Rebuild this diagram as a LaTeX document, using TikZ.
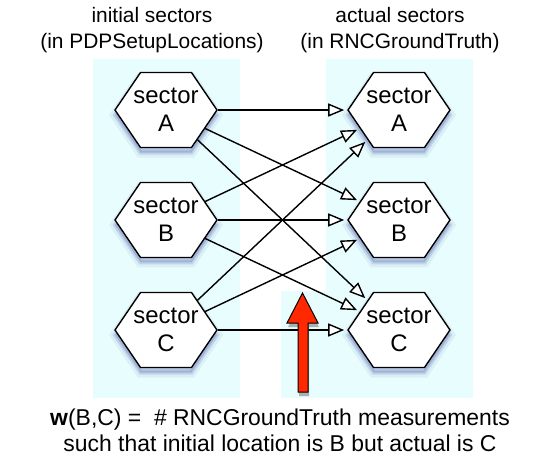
\documentclass[tikz,border=0pt]{standalone}
\usepackage{fontspec}
\setmainfont{Liberation Sans}
\usepackage{xcolor}
\usepackage{tikz}
\usetikzlibrary{shapes.geometric,shadows,arrows.meta}

\definecolor{panelcyan}{RGB}{232,254,254}
\definecolor{arrowred}{RGB}{255,40,0}
\definecolor{glowblue}{RGB}{40,50,150}

\tikzset{
  panel/.style={fill=panelcyan, draw=none},
  sector/.style={regular polygon, regular polygon sides=6, minimum size=102bp,
    inner sep=0pt, transform shape, draw=black, line width=1.4bp, fill=white,
    drop shadow={shadow xshift=0bp, shadow yshift=-5bp, fill=glowblue,
      draw=glowblue, line width=10bp, opacity=.07},
    drop shadow={shadow xshift=0bp, shadow yshift=-5bp, fill=glowblue,
      draw=glowblue, line width=4bp, opacity=.14}},
  sectortext/.style={align=center, inner sep=0pt,
    font=\fontsize{24}{28}\selectfont},
  caption/.style={align=center, inner sep=0pt,
    font=\fontsize{23}{26}\selectfont},
  link/.style={line width=1.4bp, shorten >=3bp,
    -{Triangle[fill=white, length=16bp, width=13bp]}}
}

\begin{document}
\begin{tikzpicture}[x=1bp, y=-1bp]
            \useasboundingbox (0,0) rectangle (557,460);
            
            % Backgrounds
            \fill[panel] (93,59) rectangle (240,398);
            \fill[panel] (326,59) rectangle (473,398);
            \fill[panel] (281,291) rectangle (326,398);
            
            % Column titles
            \node[caption, font=\fontsize{21}{26}\selectfont] (iniTitle) at (152,30) {initial sectors\\(in PDPSetupLocations)};
            \node[caption, font=\fontsize{21}{26}\selectfont] (actTitle) at (400,30) {actual sectors\\(in RNCGroundTruth)};
            
            % Hexagons are squashed (75 high, 102 wide)
            \begin{scope}[yscale=0.849]
            % Initial sectors
            \node[sector, label={[sectortext]center:sector\\A}] (iniA) at (166,129.6) {};
            \node[sector, label={[sectortext]center:sector\\B}] (iniB) at (166,259.1) {};
            \node[sector, label={[sectortext]center:sector\\C}] (iniC) at (166,388.7) {};
            
            % Actual sectors
            \node[sector, label={[sectortext]center:sector\\A}] (actA) at (399,129.6) {};
            \node[sector, label={[sectortext]center:sector\\B}] (actB) at (399,259.1) {};
            \node[sector, label={[sectortext]center:sector\\C}] (actC) at (399,388.7) {};
            \end{scope}
            
            % From A
            \draw[link] (iniA) -- (actA);
            \draw[link] (iniA) -- (actB);
            \draw[link] (iniA) -- (actC);
            
            % From B
            \draw[link] (iniB) -- (actA);
            \draw[link] (iniB) -- (actB);
            \draw[link] (iniB) -- (actC);
            
            % From C
            \draw[link] (iniC) -- (actA);
            \draw[link] (iniC) -- (actB);
            \draw[link] (iniC) -- (actC);
            
            % Big arrow
            \draw[fill=arrowred, draw=black, line width=1bp,
              drop shadow={shadow xshift=1bp, shadow yshift=-4bp, fill=gray, opacity=.6, draw=none}]
              (298,392) -- (298,323) -- (287,323) -- (302.5,293) -- (318,323)
              -- (308,323) -- (308,392) -- cycle;
            
            % Explanation
            \node[caption] (weight) at (280,430) {\textbf{w}(B,C) = \ \# RNCGroundTruth measurements\\such that initial location is B but actual is C};
            
        \end{tikzpicture}
\end{document}
